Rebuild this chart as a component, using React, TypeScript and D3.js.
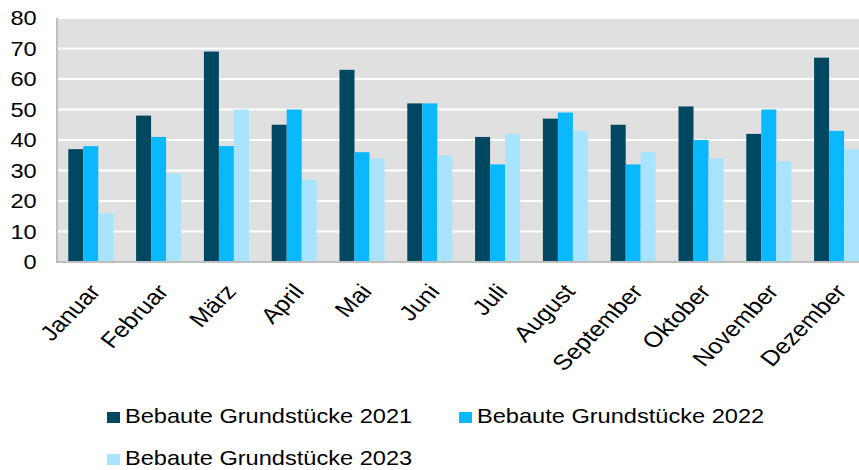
import React from "react";
import * as d3 from "d3";

const months = ["Januar", "Februar", "März", "April", "Mai", "Juni", "Juli", "August", "September", "Oktober", "November", "Dezember"];
const seriesNames = ["Bebaute Grundstücke 2021", "Bebaute Grundstücke 2022", "Bebaute Grundstücke 2023"];
const values2021 = [37, 48, 69, 45, 63, 52, 41, 47, 45, 51, 42, 67];
const values2022 = [38, 41, 38, 50, 36, 52, 32, 49, 32, 40, 50, 43];
const values2023 = [16, 29, 50, 27, 34, 35, 42, 43, 36, 34, 33, 37];
const yTicks = [0, 10, 20, 30, 40, 50, 60, 70, 80];
const colors = ["#004761", "#0AB8FF", "#A8E4FF"];

const W = 859;
const H = 470;
const SX = 1.18;
const FONT = "'Liberation Sans', Arial, sans-serif";

export default function App() {
  const series = [values2021, values2022, values2023];
  const x0 = d3.scaleBand<string>().domain(months).range([56.9, 870.5]).paddingInner(0.336).paddingOuter(0.168);
  const x1 = d3.scaleBand<number>().domain([0, 1, 2]).range([0, x0.bandwidth()]);
  const y = d3.scaleLinear().domain([0, 80]).range([262, 18]);
  const plotLeft = 57;
  const plotRight = 880;

  const legend = [
    { i: 0, x: 107, y: 423 },
    { i: 1, x: 459, y: 423 },
    { i: 2, x: 107, y: 465 },
  ];

  return (
    <svg width={W} height={H} style={{ position: "absolute", left: 0, top: 0, overflow: "hidden" }} fontFamily={FONT}>
      <rect x={0} y={0} width={W} height={H} fill="#ffffff" />
      <rect x={plotLeft} y={y(80)} width={plotRight - plotLeft} height={y(0) - y(80)} fill="#E0E0E0" />
      {yTicks.filter((t) => t > 0).map((t) => (
        <line key={t} x1={plotLeft} x2={plotRight} y1={y(t)} y2={y(t)} stroke="#ffffff" strokeWidth={2} />
      ))}
      {months.map((m, mi) => (
        <g key={m}>
          {series.map((s, si) => (
            <rect
              key={si}
              x={(x0(m) as number) + (x1(si) as number)}
              y={y(s[mi])}
              width={x1.bandwidth()}
              height={y(0) - y(s[mi])}
              fill={colors[si]}
            />
          ))}
        </g>
      ))}
      <line x1={plotLeft} x2={plotLeft} y1={y(80)} y2={y(0) + 1} stroke="#BFBFBF" strokeWidth={2} />
      <line x1={plotLeft} x2={plotRight} y1={y(0)} y2={y(0)} stroke="#BFBFBF" strokeWidth={2} />
      {yTicks.map((t) => (
        <text
          key={t}
          transform={`translate(36.7,${y(t)}) scale(${SX},1)`}
          textAnchor="end"
          dy="0.35em"
          fontSize={20}
          fill="#000"
        >
          {t}
        </text>
      ))}
      {months.map((m) => {
        const cx = (x0(m) as number) + x0.bandwidth() / 2;
        return (
          <text
            key={m}
            transform={`translate(${cx + 11},${292.2}) scale(${SX},1) rotate(-49.7)`}
            textAnchor="end"
            fontSize={21.5}
            fill="#000"
          >
            {m}
          </text>
        );
      })}
      {legend.map((l) => (
        <g key={l.i}>
          <rect x={l.x} y={l.y - 11} width={13} height={11} fill={colors[l.i]} />
          <text transform={`translate(${l.x + 18},${l.y}) scale(${SX},1)`} fontSize={20} fill="#000">
            {seriesNames[l.i]}
          </text>
        </g>
      ))}
    </svg>
  );
}
